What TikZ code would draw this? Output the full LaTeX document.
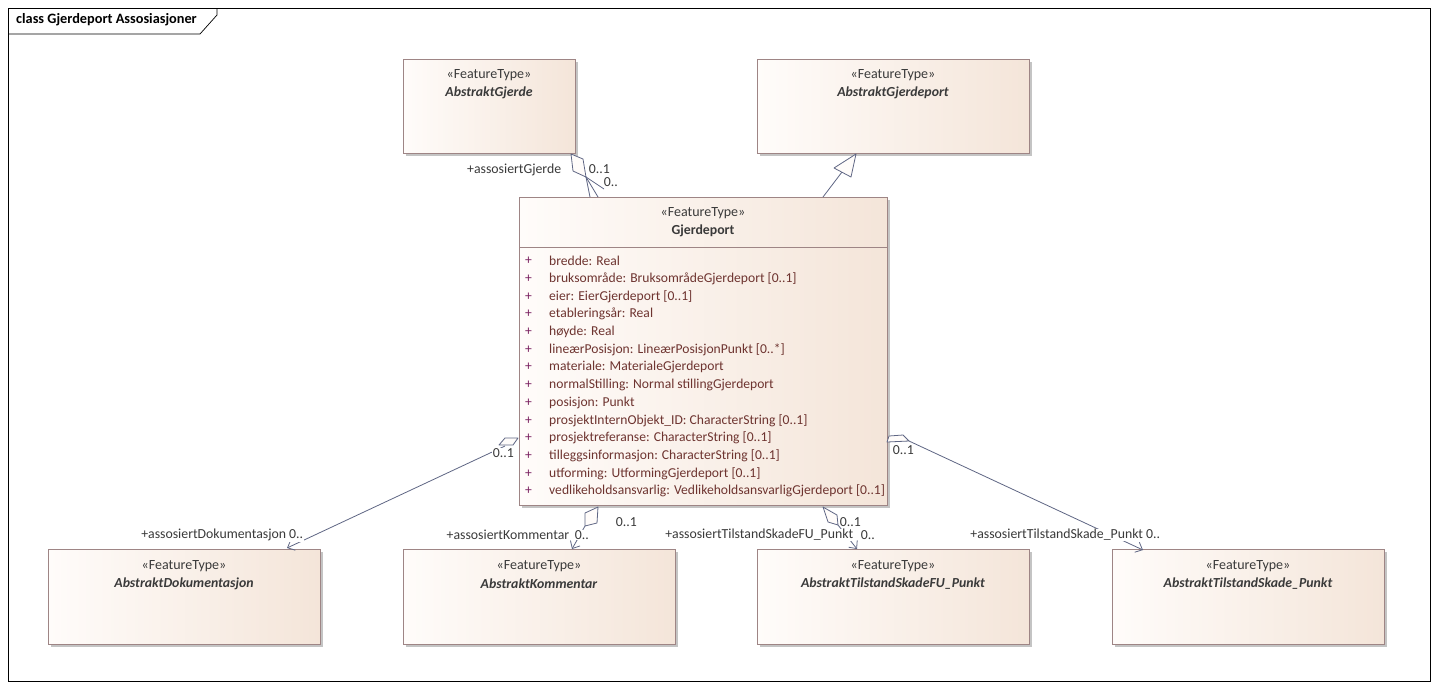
\documentclass[tikz,border=0pt]{standalone}
\usepackage{fontspec}
\setmainfont{Carlito}
\usetikzlibrary{arrows.meta,shadows}
\definecolor{boxb}{HTML}{9E8585}
\definecolor{boxl}{HTML}{FFFCFA}
\definecolor{boxr}{HTML}{F4E5D9}
\definecolor{linec}{HTML}{5F6684}
\definecolor{attrc}{HTML}{6E3430}
\definecolor{plusc}{HTML}{7A2060}
\definecolor{txtc}{HTML}{3A3A3A}
\definecolor{shad}{HTML}{C4C4C4}
\tikzset{
  umlbox/.style={draw=boxb, line width=0.9pt, left color=boxl, right color=boxr,
    anchor=north west, inner sep=0pt,
    drop shadow={shadow xshift=3pt, shadow yshift=-3pt, fill=shad, opacity=1}},
  stereo/.style={text=txtc, font=\fontsize{14}{16}\selectfont, inner sep=0pt},
  aname/.style={text=txtc, font=\fontsize{13.8}{16}\selectfont\bfseries\itshape, inner sep=0pt},
  cname/.style={text=txtc, font=\fontsize{13.8}{16}\selectfont\bfseries, inner sep=0pt},
  attr/.style={text=attrc, font=\fontsize{13.6}{16}\selectfont, inner sep=0pt, anchor=west},
  plus/.style={text=plusc, font=\fontsize{13.6}{16}\selectfont, inner sep=0pt, anchor=west},
  lbl/.style={text=txtc, font=\fontsize{13.8}{16}\selectfont, inner sep=0.6pt},
  lblw/.style={lbl, fill=white},
  conn/.style={draw=linec, line width=0.8pt},
  openarrow/.style={conn, -{Straight Barb[length=6pt,width=11pt,line width=0.8pt]}},
  diam/.style={draw=linec, line width=0.8pt, fill=boxl, line join=round},
}
\begin{document}
\begin{tikzpicture}[x=1pt,y=-1pt]
\useasboundingbox (0,0) rectangle (1438,689);
\fill[white] (0,0) rectangle (1438,689);
% frame
\draw[line width=0.7pt] (8,8) rectangle (1430,681);
\draw[line width=0.7pt] (8,34) -- (200,34) -- (217,15) -- (217,8);
\node[anchor=west, inner sep=0pt, font=\fontsize{14.3}{16}\selectfont\bfseries] (title) at (16,20) {class Gjerdeport Assosiasjoner};

% boxes
\node[umlbox, minimum width=172pt, minimum height=94pt] (gjerde) at (403,59) {};
\node[umlbox, minimum width=272pt, minimum height=94pt] (gport) at (757,59) {};
\node[umlbox, minimum width=368pt, minimum height=308pt] (gd) at (519,197) {};
\node[umlbox, minimum width=272pt, minimum height=95pt] (dok) at (48,549) {};
\node[umlbox, minimum width=272pt, minimum height=95pt] (kom) at (403,549) {};
\node[umlbox, minimum width=272pt, minimum height=95pt] (tfu) at (757,549) {};
\node[umlbox, minimum width=272pt, minimum height=95pt] (tsp) at (1112,549) {};
\draw[draw=boxb, line width=0.9pt] (519,247) -- (887,247);

% box texts
\node[stereo] (s1) at (489,75) {«FeatureType»};
\node[aname] (n1) at (489,93) {AbstraktGjerde};
\node[stereo] (s2) at (893,75) {«FeatureType»};
\node[aname] (n2) at (893,93) {AbstraktGjerdeport};
\node[stereo] (s3) at (703,213) {«FeatureType»};
\node[cname] (n3) at (703,231) {Gjerdeport};
\node[stereo] (s4) at (184,566) {«FeatureType»};
\node[aname] (n4) at (184,584) {AbstraktDokumentasjon};
\node[stereo] (s5) at (539,566) {«FeatureType»};
\node[aname] (n5) at (539,584) {AbstraktKommentar};
\node[stereo] (s6) at (893,566) {«FeatureType»};
\node[aname] (n6) at (893,584) {AbstraktTilstandSkadeFU\_Punkt};
\node[stereo] (s7) at (1248,566) {«FeatureType»};
\node[aname] (n7) at (1248,584) {AbstraktTilstandSkade\_Punkt};

% attributes
\foreach \t [count=\i] in {
  bredde: Real,
  bruksområde: BruksområdeGjerdeport [0..1],
  eier: EierGjerdeport [0..1],
  etableringsår: Real,
  høyde: Real,
  lineærPosisjon: LineærPosisjonPunkt [0..*],
  materiale: MaterialeGjerdeport,
  normalStilling: Normal stillingGjerdeport,
  posisjon: Punkt,
  prosjektInternObjekt\_ID: CharacterString [0..1],
  prosjektreferanse: CharacterString [0..1],
  tilleggsinformasjon: CharacterString [0..1],
  utforming: UtformingGjerdeport [0..1],
  vedlikeholdsansvarlig: VedlikeholdsansvarligGjerdeport [0..1]} {
  \node[plus] (p\i) at (525,{261+(\i-1)*17.7}) {+};
  \node[attr] (a\i) at (549,{261+(\i-1)*17.7}) {\t};
}

% connector 1: Gjerdeport -- AbstraktGjerde (aggregation)
\coordinate (c1t) at (571,154);
\coordinate (c1b) at (586,177);
\coordinate (c1e1) at (590,197);
\coordinate (c1e2) at (598,197);
\coordinate (c1e3) at (604,189);
\draw[diam] (c1t) -- (583,159) -- (c1b) -- (573,171) -- cycle;
\draw[conn] (c1b) -- (c1e1);
\draw[conn] (c1b) -- (c1e2);
\draw[conn] (c1b) -- (c1e3);
\node[lbl, anchor=east] (l1a) at (562,170) {+assosiertGjerde};
\node[lbl, anchor=west] (l1b) at (588,169) {0..1};
\node[lbl, anchor=west] (l1c) at (603,182) {0..};

% connector 2: generalization
\coordinate (g1) at (823,197);
\coordinate (gtip) at (856,154);
\draw[conn] (g1) -- (842,172);
\draw[diam] (gtip) -- (834,168) -- (851,177) -- cycle;

% connector 3: Dokumentasjon
\coordinate (d3s) at (505,446);
\coordinate (d3e) at (287,548);
\draw[diam] (499,445) -- (505,438) -- (518,438) -- (513,445) -- cycle;
\draw[openarrow] (d3s) -- (d3e);
\node[lblw, anchor=west] (l3a) at (492,453) {0..1};
\node[lblw, anchor=east] (l3b) at (304,535) {+assosiertDokumentasjon 0..};

% connector 4: Kommentar
\coordinate (d4s) at (585,526);
\coordinate (d4e) at (572,549);
\draw[diam] (585,513) -- (598,507) -- (597,523) -- (d4s) -- cycle;
\draw[openarrow] (d4s) -- (d4e);
\node[lblw, anchor=east] (l4a) at (570,535) {+assosiertKommentar};
\node[lblw, anchor=west] (l4b) at (574,535) {0..};
\node[lbl, anchor=west] (l4c) at (615,522) {0..1};

% connector 5: TilstandSkadeFU
\coordinate (d5s) at (838,525);
\coordinate (d5e) at (857,549);
\draw[diam] (823,507) -- (828,522) -- (d5s) -- (837,515) -- cycle;
\draw[openarrow] (d5s) -- (d5e);
\node[lbl, anchor=west] (l5a) at (839,522) {0..1};
\node[lblw, anchor=east] (l5b) at (854,535) {+assosiertTilstandSkadeFU\_Punkt};
\node[lbl, anchor=west] (l5c) at (860,535) {0..};

% connector 6: TilstandSkade
\coordinate (d6s) at (909,441);
\coordinate (d6e) at (1143,550);
\draw[diam] (887,442) -- (889,436) -- (903,435) -- (909,441) -- cycle;
\draw[openarrow] (d6s) -- (d6e);
\node[lblw, anchor=west] (l6a) at (892,450) {0..1};
\node[lblw, anchor=east] (l6b) at (1161,535) {+assosiertTilstandSkade\_Punkt 0..};
\end{tikzpicture}
\end{document}
